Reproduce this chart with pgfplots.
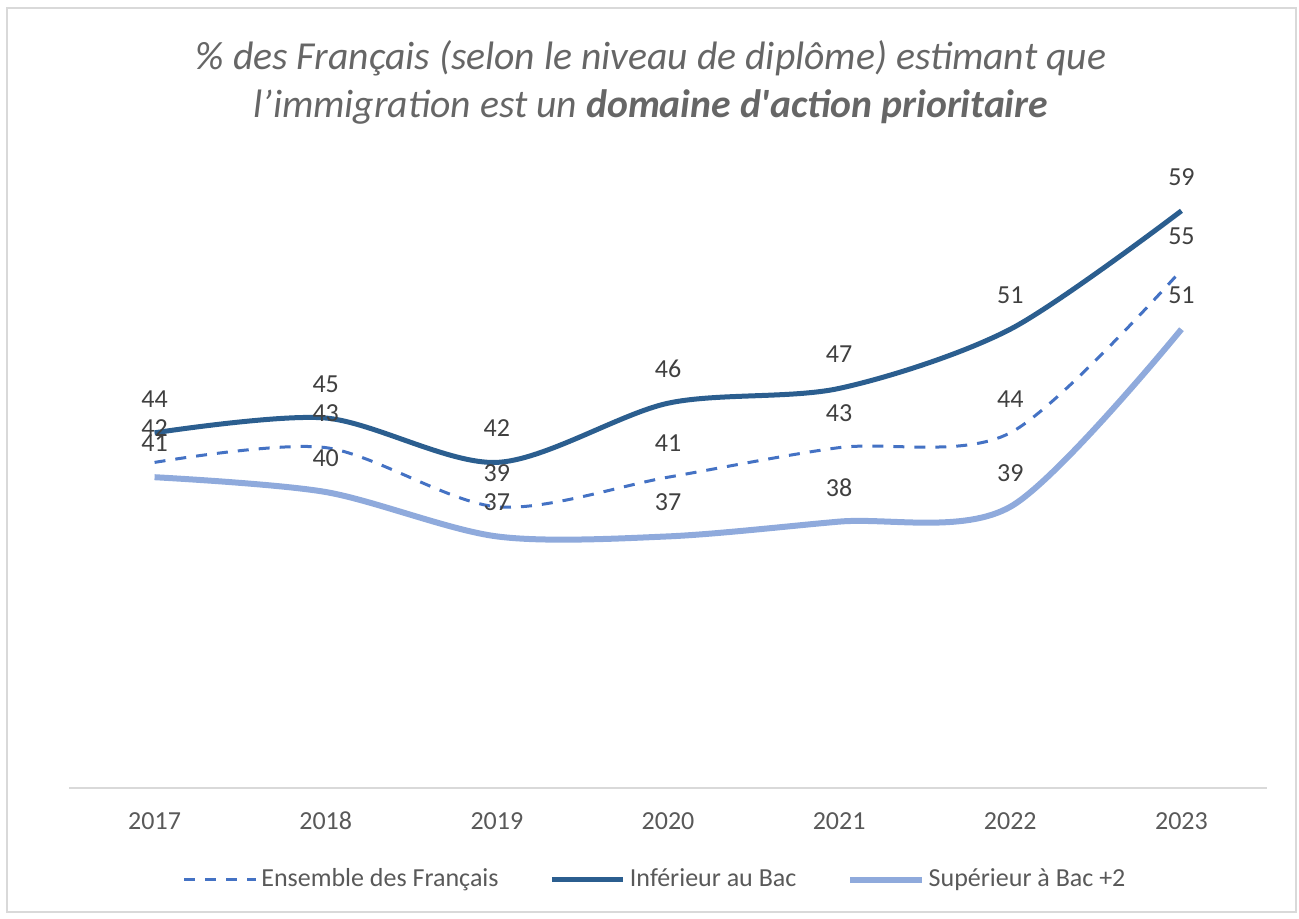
\documentclass[border=0pt]{standalone}
\usepackage{fontspec}
\setmainfont{Carlito}
\usepackage{pgfplots}
\pgfplotsset{compat=1.18}
\definecolor{darkblue}{HTML}{2B5E8F}
\definecolor{midblue}{HTML}{4472C4}
\definecolor{lightblue}{HTML}{8FAADC}
\definecolor{txtgray}{HTML}{595959}
\definecolor{lblgray}{HTML}{404040}
\definecolor{titlegray}{HTML}{666666}
\definecolor{framegray}{HTML}{D9D9D9}
\begin{document}
\begin{tikzpicture}
\path (0,0) rectangle (389.7pt,275.4pt);
\draw[framegray, line width=0.6pt] (2.1pt,1.8pt) rectangle (388.8pt,273pt);
\node[align=center, text=titlegray, font=\fontsize{11.9}{14.4}\selectfont\itshape]
  at (195.3pt,250.6pt) {\% des Français (selon le niveau de diplôme) estimant que\\
  l’immigration est un \textbf{domaine d\textquotesingle action prioritaire}};
\begin{axis}[
  at={(20.7pt,39pt)}, anchor=south west,
  scale only axis, width=359.4pt, height=199.8pt,
  xmin=-0.5, xmax=6.5, ymin=20, ymax=65,
  axis x line=bottom, axis y line=none,
  x axis line style={framegray, line width=0.6pt, -},
  xtick={0,1,2,3,4,5,6},
  xticklabels={2017,2018,2019,2020,2021,2022,2023},
  major tick length=0pt,
  xticklabel style={font=\fontsize{7.8}{9}\selectfont, text=txtgray, anchor=base, yshift=-12.3pt},
  /pgf/number format/assume math mode=true,
  clip=false,
  nodes near coords,
  every node near coord/.append style={font=\fontsize{7.8}{9}\selectfont, text=lblgray, anchor=center, yshift=10.2pt},
  legend style={at={(0.49,-0.138)}, anchor=center, legend columns=3, draw=none, fill=none,
    font=\fontsize{7.8}{9}\selectfont, text=txtgray,
    nodes={inner sep=1.2pt},
    /tikz/every even column/.append style={column sep=14pt}},
  legend image code/.code={\draw[#1] (0pt,0pt) -- (21.5pt,0pt);},
]
\addplot[midblue, line width=0.9pt, dash pattern=on 3.3pt off 3pt, smooth, tension=0.5]
  coordinates {(0,42) (1,43) (2,39) (3,41) (4,43) (5,44) (6,55)};
\addlegendentry{Ensemble des Français}
\addplot[darkblue, line width=1.5pt, smooth, tension=0.5]
  coordinates {(0,44) (1,45) (2,42) (3,46) (4,47) (5,51) (6,59)};
\addlegendentry{Inférieur au Bac}
\addplot[lightblue, line width=1.8pt, smooth, tension=0.5]
  coordinates {(0,41) (1,40) (2,37) (3,37) (4,38) (5,39) (6,51)};
\addlegendentry{Supérieur à Bac +2}
\end{axis}
\end{tikzpicture}
\end{document}
